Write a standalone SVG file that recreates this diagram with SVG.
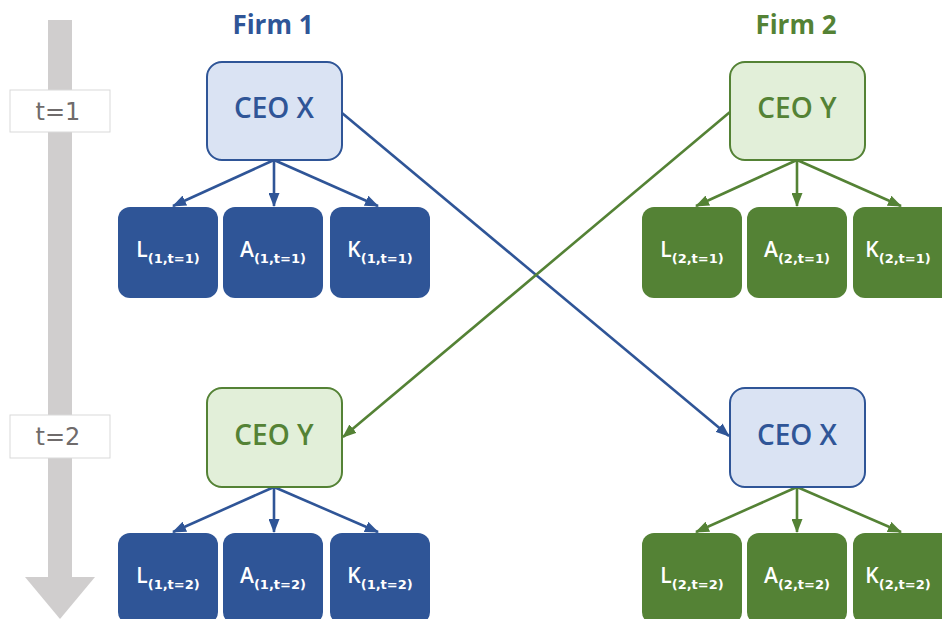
<svg xmlns="http://www.w3.org/2000/svg" width="942" height="619" viewBox="0 0 942 619">
<style>
.title{font-family:"Open Sans","Liberation Sans",sans-serif;font-weight:bold;font-size:26px;text-anchor:middle}
.ceo{font-family:"Open Sans","Liberation Sans",sans-serif;font-weight:600;font-size:28px;text-anchor:middle}
.sub{font-family:"Open Sans","Liberation Sans",sans-serif;font-weight:600;font-size:21px;fill:#fff;text-anchor:middle}
.sub tspan{font-family:"DejaVu Sans","Liberation Sans",sans-serif;font-weight:bold;font-size:13px}
.tl{font-family:"DejaVu Sans","Liberation Sans",sans-serif;font-size:24px;fill:#6f6b6b;text-anchor:middle}
.bx{fill:#2f5597}
.gx{fill:#548235}
.ceoB{fill:#dae3f3;stroke:#2f5597;stroke-width:2}
.ceoG{fill:#e2efd9;stroke:#548235;stroke-width:2}
.cb{stroke:#2f5597;stroke-width:2.6;fill:none;marker-end:url(#ab)}
.cg{stroke:#548235;stroke-width:2.6;fill:none;marker-end:url(#ag)}
</style>
<defs>
<marker id="ab" markerUnits="userSpaceOnUse" markerWidth="14" markerHeight="11" refX="13" refY="5.5" orient="auto" viewBox="0 0 14 11"><path d="M0,0 L14,5.5 L0,11 z" fill="#2f5597"/></marker>
<marker id="ag" markerUnits="userSpaceOnUse" markerWidth="14" markerHeight="11" refX="13" refY="5.5" orient="auto" viewBox="0 0 14 11"><path d="M0,0 L14,5.5 L0,11 z" fill="#548235"/></marker>
</defs>
<rect width="942" height="619" fill="#fff"/>
<g id="timeline">
<rect x="48" y="20" width="24" height="558" fill="#d0cece"/>
<polygon points="25,577 95,577 60,619" fill="#d0cece"/>
</g>
<g id="t1"><rect x="10" y="90" width="100" height="42" fill="#fff" stroke="#d9d9d9"/><text class="tl" x="58" y="120">t=1</text></g>
<g id="t2"><rect x="10" y="415" width="100" height="43" fill="#fff" stroke="#d9d9d9"/><text class="tl" x="58" y="445">t=2</text></g>
<g id="firm1"><text class="title" x="273" y="34" fill="#2f5597">Firm 1</text></g>
<g id="firm2"><text class="title" x="796" y="34" fill="#548235">Firm 2</text></g>
<g id="connectors">
<line class="cb" x1="274" y1="160" x2="173" y2="206"/>
<line class="cb" x1="274" y1="160" x2="274" y2="206"/>
<line class="cb" x1="274" y1="160" x2="378" y2="206"/>
<line class="cg" x1="797" y1="160" x2="696" y2="206"/>
<line class="cg" x1="797" y1="160" x2="797" y2="206"/>
<line class="cg" x1="797" y1="160" x2="901" y2="206"/>
<line class="cb" x1="274" y1="487" x2="173" y2="532"/>
<line class="cb" x1="274" y1="487" x2="274" y2="532"/>
<line class="cb" x1="274" y1="487" x2="378" y2="532"/>
<line class="cg" x1="797" y1="487" x2="696" y2="532"/>
<line class="cg" x1="797" y1="487" x2="797" y2="532"/>
<line class="cg" x1="797" y1="487" x2="901" y2="532"/>
<line class="cb" x1="342" y1="113" x2="729" y2="436"/>
<line class="cg" x1="730" y1="112" x2="343" y2="437"/>
</g>
<g id="ceoX1"><rect class="ceoB" x="207" y="62" width="135" height="98" rx="15"/><text class="ceo" x="274" y="118" fill="#2f5597">CEO X</text></g>
<g id="ceoY1"><rect class="ceoG" x="730" y="62" width="135" height="98" rx="15"/><text class="ceo" x="797" y="118" fill="#548235">CEO Y</text></g>
<g id="ceoY2"><rect class="ceoG" x="207" y="388" width="135" height="99" rx="15"/><text class="ceo" x="274" y="445" fill="#548235">CEO Y</text></g>
<g id="ceoX2"><rect class="ceoB" x="730" y="388" width="135" height="99" rx="15"/><text class="ceo" x="797" y="445" fill="#2f5597">CEO X</text></g>
<g id="L11"><rect class="bx" x="118" y="207" width="100" height="91" rx="12"/><text class="sub" x="168" y="257">L<tspan dy="6">(1,t=1)</tspan></text></g>
<g id="A11"><rect class="bx" x="223" y="207" width="100" height="91" rx="12"/><text class="sub" x="273" y="257">A<tspan dy="6">(1,t=1)</tspan></text></g>
<g id="K11"><rect class="bx" x="330" y="207" width="100" height="91" rx="12"/><text class="sub" x="380" y="257">K<tspan dy="6">(1,t=1)</tspan></text></g>
<g id="L21"><rect class="gx" x="642" y="207" width="100" height="91" rx="12"/><text class="sub" x="692" y="257">L<tspan dy="6">(2,t=1)</tspan></text></g>
<g id="A21"><rect class="gx" x="747" y="207" width="100" height="91" rx="12"/><text class="sub" x="797" y="257">A<tspan dy="6">(2,t=1)</tspan></text></g>
<g id="K21"><rect class="gx" x="853" y="207" width="100" height="91" rx="12"/><text class="sub" x="898" y="257">K<tspan dy="6">(2,t=1)</tspan></text></g>
<g id="L12"><rect class="bx" x="118" y="533" width="100" height="91" rx="12"/><text class="sub" x="168" y="583">L<tspan dy="6">(1,t=2)</tspan></text></g>
<g id="A12"><rect class="bx" x="223" y="533" width="100" height="91" rx="12"/><text class="sub" x="273" y="583">A<tspan dy="6">(1,t=2)</tspan></text></g>
<g id="K12"><rect class="bx" x="330" y="533" width="100" height="91" rx="12"/><text class="sub" x="380" y="583">K<tspan dy="6">(1,t=2)</tspan></text></g>
<g id="L22"><rect class="gx" x="642" y="533" width="100" height="91" rx="12"/><text class="sub" x="692" y="583">L<tspan dy="6">(2,t=2)</tspan></text></g>
<g id="A22"><rect class="gx" x="747" y="533" width="100" height="91" rx="12"/><text class="sub" x="797" y="583">A<tspan dy="6">(2,t=2)</tspan></text></g>
<g id="K22"><rect class="gx" x="853" y="533" width="100" height="91" rx="12"/><text class="sub" x="898" y="583">K<tspan dy="6">(2,t=2)</tspan></text></g>
</svg>
